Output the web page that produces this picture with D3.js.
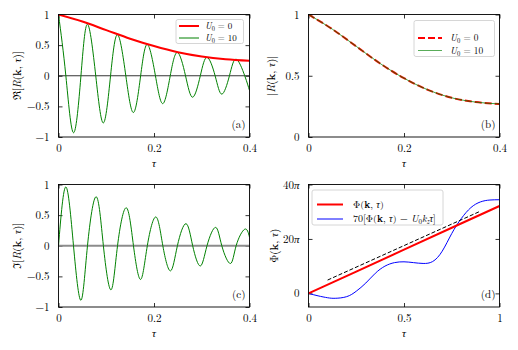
<!DOCTYPE html>
<html>
<head>
<meta charset="utf-8">
<script src="https://cdn.jsdelivr.net/npm/d3@7"></script>
<style>
  body { margin: 0; background: #fff; }
  svg { font-family: "Latin Modern Roman", "CMU Serif", "Liberation Serif", "DejaVu Serif", serif; }
</style>
</head>
<body>
<svg width="518" height="350"></svg>
<script>
// ---- data ----
const tauTicks = [0, 0.2, 0.4];
const tauTicksD = [0, 0.5, 1];
const reTicks = [-1, -0.5, 0, 0.5, 1];
const absTicks = [0, 0.5, 1];
const phiTicks = [0, 20, 40]; // in units of pi

// envelope curves (U0 = 0)
const envTau = [0, 0.05, 0.1, 0.15, 0.2, 0.25, 0.3, 0.35, 0.4];
const reFree = [1, 0.885, 0.745, 0.605, 0.485, 0.385, 0.315, 0.27, 0.245];
const absFree = [1, 0.88, 0.74, 0.6, 0.48, 0.385, 0.32, 0.285, 0.27];
const absU10 = [1, 0.88, 0.74, 0.6, 0.48, 0.385, 0.32, 0.285, 0.27];

// oscillating curves (U0 = 10): extrema and zero crossings
const reTau = [0, 0.0154, 0.0314, 0.047, 0.0607, 0.078, 0.094, 0.109, 0.1236, 0.141, 0.157, 0.172, 0.186, 0.203,
  0.2185, 0.234, 0.249, 0.266, 0.281, 0.297, 0.311, 0.328, 0.342, 0.358, 0.372, 0.39, 0.4];
const reU10 = [1, 0, -0.93, 0, 0.84, 0, -0.77, 0, 0.67, 0, -0.6, 0, 0.51, 0,
  -0.455, 0, 0.38, 0, -0.35, 0, 0.3, 0, -0.3, 0, 0.27, 0, -0.24];
const imTau = [0, 0.0154, 0.0314, 0.047, 0.0607, 0.079, 0.094, 0.11, 0.1236, 0.142, 0.157, 0.172, 0.186, 0.204,
  0.2185, 0.2346, 0.249, 0.267, 0.281, 0.297, 0.311, 0.329, 0.342, 0.36, 0.372, 0.39, 0.4];
const imU10 = [0, 0.96, 0, -0.89, 0, 0.8, 0, -0.72, 0, 0.62, 0, -0.55, 0, 0.47,
  0, -0.41, 0, 0.36, 0, -0.33, 0, 0.3, 0, -0.29, 0, 0.27, 0.14];

// phase (units of pi)
const phiTau = [0, 0.25, 0.5, 0.75, 1];
const phiVals = [0, 8.0, 16.05, 24.1, 32.1];
const dashTau = [0.1, 0.9];
const dashVals = [4.9, 30.2];
const devTau = [0, 0.05, 0.1, 0.14, 0.2, 0.25, 0.3, 0.35, 0.4, 0.45, 0.5, 0.55, 0.6, 0.65, 0.7, 0.75, 0.8, 0.85, 0.9, 0.95, 1];
const devVals = [0, -0.9, -1.6, -1.8, -1.2, 0.8, 3.8, 7.4, 10.0, 11.3, 11.6, 11.3, 11.0, 11.7, 15.5, 22.0, 27.5, 31.5, 33.6, 34.3, 34.4];

// ---- layout ----
const svg = d3.select('svg');
const W = 191, H = 122.5;
const fmtNum = d => (d < 0 ? '\u2212' : '') + Math.abs(d);

// text made of styled pieces: '' plain, 'i' italic, 'b' bold, 'sub'/'subi' subscript
function richText(sel, parts, size) {
  let shift = 0;
  parts.forEach(([t, s]) => {
    const ts = sel.append('tspan').text(t);
    const sub = s.indexOf('sub') === 0;
    const want = sub ? size * 0.22 : 0;
    if (want !== shift) { ts.attr('dy', want - shift); shift = want; }
    if (sub) ts.attr('font-size', size * 0.7);
    if (s === 'i' || s === 'subi') ts.attr('font-style', 'italic');
    if (s === 'b') ts.attr('font-weight', 'bold');
  });
}

function makePanel(p) {
  const g = svg.append('g').attr('transform', `translate(${p.x},${p.y})`);
  const x = d3.scaleLinear().domain(p.xd).range([0, W]);
  const y = d3.scaleLinear().domain(p.yd).range([H, 0]);

  svg.append('clipPath').attr('id', 'clip-' + p.id)
    .append('rect').attr('width', W).attr('height', H);

  const axB = g.append('g').attr('transform', `translate(0,${H})`)
    .call(d3.axisBottom(x).tickValues(p.xt).tickSizeInner(-4).tickSizeOuter(0).tickPadding(7).tickFormat(d => String(d)));
  g.append('g')
    .call(d3.axisTop(x).tickValues(p.xt).tickSizeInner(-4).tickSizeOuter(0).tickFormat(''));
  const axL = g.append('g')
    .call(d3.axisLeft(y).tickValues(p.yt).tickSizeInner(-4).tickSizeOuter(0).tickPadding(9).tickFormat(fmtNum));
  g.append('g').attr('transform', `translate(${W},0)`)
    .call(d3.axisRight(y).tickValues(p.yt).tickSizeInner(-4).tickSizeOuter(0).tickFormat(''));
  g.selectAll('.domain').remove();
  g.selectAll('.tick line').attr('stroke-width', 0.8);
  [axB, axL].forEach(a => a.attr('font-family', null).attr('font-size', 11));

  const plot = g.append('g').attr('clip-path', `url(#clip-${p.id})`);
  const top = g.append('g');

  // x label
  g.append('text').attr('x', W / 2).attr('y', H + 30).attr('text-anchor', 'middle')
    .attr('font-size', 11).call(richText, [['\u03c4', 'i']], 11);
  // y label
  g.append('text').attr('transform', `translate(${p.ylx},${H / 2}) rotate(-90)`)
    .attr('text-anchor', 'middle').attr('font-size', 11).call(richText, p.ylab, 11);
  // panel tag
  top.append('text').attr('x', W - 4).attr('y', H - 9).attr('text-anchor', 'end')
    .attr('font-size', 11).text(p.tag);

  return { g, plot, top, axL, x, y };
}

function frame(pn) {
  pn.top.append('rect').attr('width', W).attr('height', H)
    .attr('fill', 'none').attr('stroke', 'black').attr('stroke-width', 0.9);
}

function drawLine(pn, xs, ys, style, curve) {
  const line = d3.line().x(d => pn.x(d[0])).y(d => pn.y(d[1])).curve(curve || d3.curveMonotoneX);
  const path = pn.plot.append('path').datum(d3.zip(xs, ys))
    .attr('d', line).attr('fill', 'none');
  Object.entries(style).forEach(([k, v]) => path.attr(k, v));
  return path;
}

function legend(pn, x0, y0, w, h, items, size) {
  const lg = pn.top.append('g').attr('transform', `translate(${x0},${y0})`);
  lg.append('rect').attr('width', w).attr('height', h).attr('rx', 2)
    .attr('fill', 'white').attr('fill-opacity', 0.85).attr('stroke', '#cccccc').attr('stroke-width', 0.8);
  items.forEach(it => {
    const l = lg.append('line').attr('x1', it.x1).attr('x2', it.x2).attr('y1', it.y).attr('y2', it.y);
    Object.entries(it.style).forEach(([k, v]) => l.attr(k, v));
    lg.append('text').attr('x', it.tx).attr('y', it.y + size * 0.32).attr('font-size', size)
      .call(richText, it.label, size);
  });
}

const labU = v => [['U', 'i'], ['0', 'sub'], [' = ' + v, '']];

// ---- (a) ----
const pa = makePanel({
  id: 'a', x: 58.5, y: 14.5, xd: [0, 0.4], yd: [-1, 1], xt: tauTicks, yt: reTicks, ylx: -38,
  ylab: [['\u211c[', ''], ['R', 'i'], ['(', ''], ['k', 'b'], [', ', ''], ['\u03c4', 'i'], [')]', '']], tag: '(a)'
});
pa.plot.append('line').attr('x1', 0).attr('x2', W).attr('y1', pa.y(0)).attr('y2', pa.y(0))
  .attr('stroke', 'black').attr('stroke-width', 0.8);
drawLine(pa, reTau, reU10, { stroke: 'green', 'stroke-width': 1 }, d3.curveNatural);
drawLine(pa, envTau, reFree, { stroke: 'red', 'stroke-width': 2 });
frame(pa);
legend(pa, 117.5, 5, 67.5, 24, [
  { y: 6.5, x1: 3, x2: 23, tx: 29, style: { stroke: 'red', 'stroke-width': 2 }, label: labU(0) },
  { y: 18.5, x1: 3, x2: 23, tx: 29, style: { stroke: 'green', 'stroke-width': 1 }, label: labU(10) }
], 9);

// ---- (b) ----
const pb = makePanel({
  id: 'b', x: 308.5, y: 14.5, xd: [0, 0.4], yd: [0, 1], xt: tauTicks, yt: absTicks, ylx: -34,
  ylab: [['|', ''], ['R', 'i'], ['(', ''], ['k', 'b'], [', ', ''], ['\u03c4', 'i'], [')|', '']], tag: '(b)'
});
drawLine(pb, envTau, absFree, { stroke: 'red', 'stroke-width': 2, 'stroke-dasharray': '7,3' });
drawLine(pb, envTau, absU10, { stroke: 'green', 'stroke-width': 1, 'stroke-opacity': 0.75 });
frame(pb);
legend(pb, 105.5, 6, 80.5, 36, [
  { y: 17.5, x1: 4, x2: 28, tx: 36, style: { stroke: 'red', 'stroke-width': 2, 'stroke-dasharray': '7,3' }, label: labU(0) },
  { y: 30, x1: 4, x2: 28, tx: 36, style: { stroke: 'green', 'stroke-width': 1, 'stroke-opacity': 0.65 }, label: labU(10) }
], 9.4);

// ---- (c) ----
const pc = makePanel({
  id: 'c', x: 58.5, y: 184.5, xd: [0, 0.4], yd: [-1, 1], xt: tauTicks, yt: reTicks, ylx: -38,
  ylab: [['\u2111[', ''], ['R', 'i'], ['(', ''], ['k', 'b'], [', ', ''], ['\u03c4', 'i'], [')]', '']], tag: '(c)'
});
pc.plot.append('line').attr('x1', 0).attr('x2', W).attr('y1', pc.y(0)).attr('y2', pc.y(0))
  .attr('stroke', '#8c8c8c').attr('stroke-width', 2);
drawLine(pc, imTau, imU10, { stroke: 'green', 'stroke-width': 1 }, d3.curveNatural);
frame(pc);

// ---- (d) ----
const pd = makePanel({
  id: 'd', x: 308.5, y: 184.5, xd: [0, 1], yd: [-5, 40], xt: tauTicksD, yt: phiTicks, ylx: -31,
  ylab: [['\u03a6(', ''], ['k', 'b'], [', ', ''], ['\u03c4', 'i'], [')', '']], tag: '(d)'
});
// y tick labels as multiples of pi
pd.axL.selectAll('.tick text').each(function (d) {
  const t = d3.select(this).text(null);
  if (d === 0) t.text('0');
  else { t.append('tspan').text(d); t.append('tspan').attr('font-style', 'italic').text('\u03c0'); }
});
drawLine(pd, devTau, devVals, { stroke: 'blue', 'stroke-width': 1 }, d3.curveNatural);
drawLine(pd, dashTau, dashVals, { stroke: 'black', 'stroke-width': 1, 'stroke-dasharray': '4,2' }, d3.curveLinear);
drawLine(pd, phiTau, phiVals, { stroke: 'red', 'stroke-width': 2 }, d3.curveLinear);
frame(pd);
legend(pd, 3.5, 5.5, 131, 35, [
  { y: 14.5, x1: 5, x2: 31, tx: 41, style: { stroke: 'red', 'stroke-width': 2 },
    label: [['\u03a6(', ''], ['k', 'b'], [', ', ''], ['\u03c4', 'i'], [')', '']] },
  { y: 29, x1: 5, x2: 31, tx: 41, style: { stroke: 'blue', 'stroke-width': 1 },
    label: [['70[\u03a6(', ''], ['k', 'b'], [', ', ''], ['\u03c4', 'i'], [') \u2212 ', ''], ['U', 'i'], ['0', 'sub'],
      ['k', 'i'], ['z', 'subi'], ['\u03c4', 'i'], [']', '']] }
], 10);
</script>
</body>
</html>
